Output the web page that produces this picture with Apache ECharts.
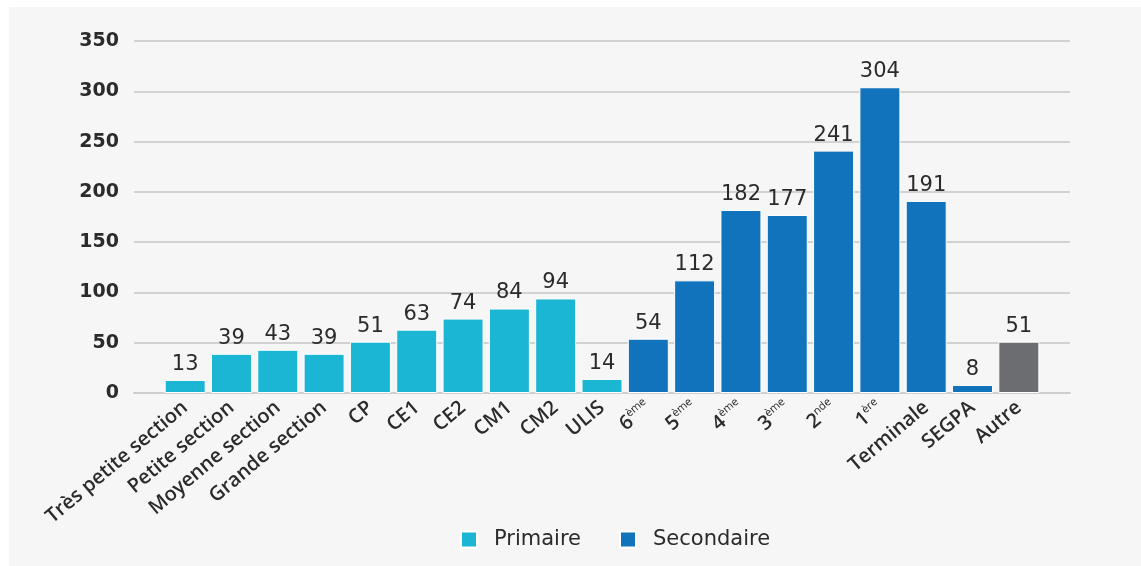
<!DOCTYPE html>
<html>
<head>
<meta charset="utf-8">
<script src="https://cdn.jsdelivr.net/npm/echarts@6/dist/echarts.min.js"></script>
<style>
html,body{margin:0;padding:0;background:#ffffff;}
#panel{position:absolute;left:9px;top:7px;right:0;bottom:0;background:#f6f6f6;}
#chart{position:absolute;left:0;top:0;width:1141px;height:566px;}
</style>
</head>
<body>
<div id="panel"></div>
<div id="chart"></div>
<script>
const categories = ['Très petite section','Petite section','Moyenne section','Grande section','CP','CE1','CE2','CM1','CM2','ULIS','6ème','5ème','4ème','3ème','2nde','1ère','Terminale','SEGPA','Autre'];
const primaire   = [13,39,43,39,51,63,74,84,94,14,null,null,null,null,null,null,null,null,null];
const secondaire = [null,null,null,null,null,null,null,null,null,null,54,112,182,177,241,304,191,8,null];
const autre      = [null,null,null,null,null,null,null,null,null,null,null,null,null,null,null,null,null,null,51];
const yTicks = [0,50,100,150,200,250,300,350];

const FONT = '"DejaVu Sans", "Open Sans", sans-serif';
const XFONT = '"Open Sans", "DejaVu Sans", sans-serif';
const chart = echarts.init(document.getElementById('chart'), null, {renderer:'canvas'});

function fmtCat(v){
  const m = v.match(/^(\d)(ème|nde|ère)$/);
  if (m) return m[1] + '{sup|' + m[2] + '}';
  return v;
}
const labelStyle = {show:true, position:'top', distance:5, color:'#2b2b2b', fontSize:21, fontFamily:FONT};
const itemBorder = {borderColor:'#ffffff', borderWidth:1};

chart.setOption({
  backgroundColor:'transparent',
  animation:false,
  legend:{
    data:['Primaire','Secondaire'],
    left:460, top:529, padding:0,
    icon:'rect', itemWidth:16, itemHeight:16, itemGap:38,
    textStyle:{fontSize:21, color:'#2b2b2b', fontFamily:FONT, padding:[0,0,0,12]}
  },
  grid:[
    {left:134, right:71, top:41, bottom:173},
    {left:162, right:99, top:41, bottom:173}
  ],
  xAxis:[
    {type:'category', gridIndex:0, data:[''], axisLine:{show:true, lineStyle:{color:'#cfcfcf', width:2}},
     axisTick:{show:false}, axisLabel:{show:false}},
    {type:'category', gridIndex:1, data:categories, axisLine:{show:false}, axisTick:{show:false},
     axisLabel:{interval:0, rotate:40, margin:12, color:'#2b2b2b', fontSize:20, fontWeight:600, fontFamily:XFONT,
       formatter:fmtCat,
       rich:{sup:{fontSize:11, fontWeight:400, verticalAlign:'top', padding:[0,0,12,0], color:'#2b2b2b', fontFamily:XFONT}}}}
  ],
  yAxis:[
    {type:'value', gridIndex:0, min:0, max:350, interval:50,
     axisLine:{show:false}, axisTick:{show:false},
     splitLine:{lineStyle:{color:'#d2d2d2', width:2}},
     axisLabel:{margin:15, color:'#2b2b2b', fontSize:19, fontWeight:'bold', fontFamily:FONT,
       formatter:function(v){ return yTicks.indexOf(v) >= 0 ? String(v) : ''; }}},
    {type:'value', gridIndex:1, min:0, max:350, interval:50,
     axisLine:{show:false}, axisTick:{show:false}, splitLine:{show:false}, axisLabel:{show:false}}
  ],
  series:[
    {name:'Primaire', type:'bar', xAxisIndex:1, yAxisIndex:1, stack:'all', barWidth:41,
     data:primaire, itemStyle:Object.assign({color:'#1ab6d4'}, itemBorder), label:labelStyle},
    {name:'Secondaire', type:'bar', xAxisIndex:1, yAxisIndex:1, stack:'all', barWidth:41,
     data:secondaire, itemStyle:Object.assign({color:'#1173bb'}, itemBorder), label:labelStyle},
    {name:'Autre', type:'bar', xAxisIndex:1, yAxisIndex:1, stack:'all', barWidth:41,
     data:autre, itemStyle:Object.assign({color:'#6c6d70'}, itemBorder), label:labelStyle}
  ]
});
</script>
</body>
</html>
